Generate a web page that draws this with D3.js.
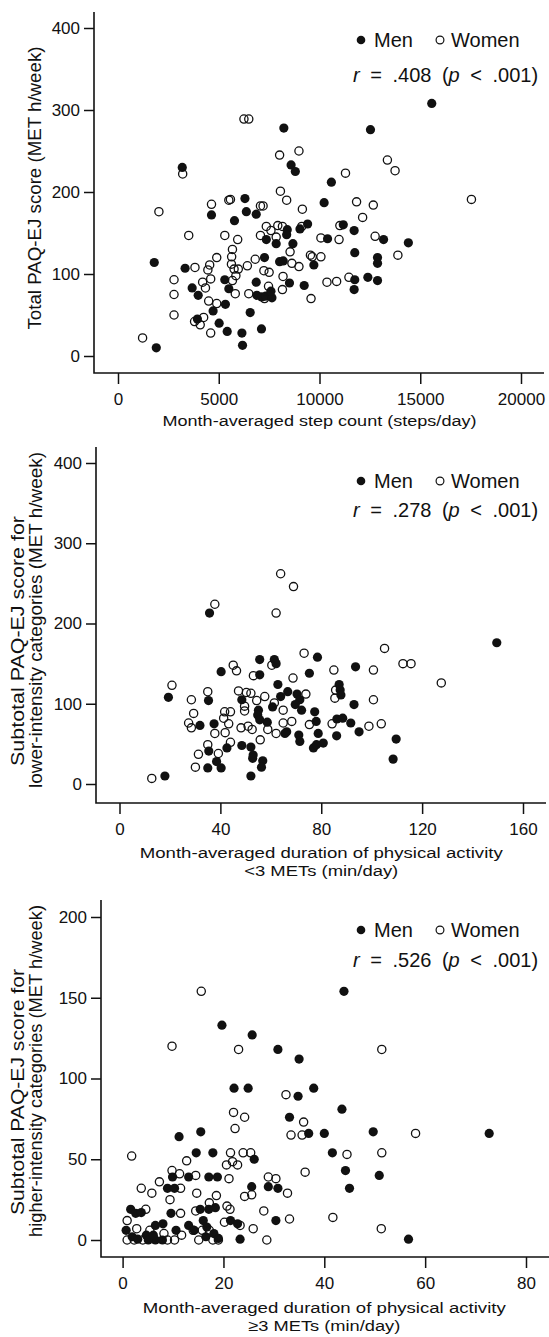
<!DOCTYPE html>
<html>
<head>
<meta charset="utf-8">
<script src="https://cdn.jsdelivr.net/npm/d3@7"></script>
<style>
  body { margin: 0; background: #fff; }
  svg { display: block; }
</style>
</head>
<body>
<svg id="chart" width="549" height="1337"></svg>
<script>
// ---- data ----
const stepsMen = [[15570,308],[8230,278],[12530,276],[3190,230],[8590,233],[8800,225],[10590,212],[10230,187],[6300,192],[4640,172],[6370,176],[6860,173],[5780,165],[8400,154],[8370,148],[9030,155],[9410,161],[11180,160],[11720,153],[13180,142],[10400,143],[14410,138],[7360,142],[7850,137],[8680,137],[11750,126],[12880,120],[12880,113],[7270,120],[8020,115],[8200,116],[9720,111],[1800,114],[3330,107],[12400,96],[12880,92],[11750,93],[11720,81],[8510,89],[9240,86],[6860,90],[5300,93],[5500,82],[3680,83],[3980,74],[6890,74],[7130,72],[7330,73],[7640,71],[7590,79],[5330,63],[4720,55],[6560,53],[5020,40],[5420,30],[7120,33],[6150,28],[6180,13],[1900,10],[3940,45]];
const stepsWomen = [[6250,289],[6490,289],[8020,245],[8980,250],[13370,239],[13750,226],[11290,223],[3210,222],[2030,176],[8060,201],[8370,190],[5500,190],[5580,191],[4640,185],[7070,183],[7200,183],[11840,188],[12670,184],[12140,169],[9150,179],[17540,191],[3510,147],[5300,147],[5940,142],[7360,158],[7590,153],[7930,159],[8160,158],[7070,147],[7850,145],[9120,158],[11010,159],[10970,142],[10070,144],[12760,146],[5680,130],[5640,121],[4900,120],[5630,112],[5760,106],[5970,106],[4550,111],[4460,105],[3820,108],[6420,110],[6810,118],[7240,104],[7500,102],[8540,127],[8630,113],[8980,109],[9550,123],[9640,121],[10070,121],[13890,123],[8190,97],[11460,96],[10370,90],[10850,91],[9580,70],[8160,81],[7470,85],[5850,98],[5680,92],[4600,94],[4200,90],[4340,83],[2780,93],[2780,75],[2780,50],[5820,76],[6490,76],[4500,67],[4900,64],[3800,42],[4080,38],[4250,47],[4600,28],[1220,22],[7270,70]];

const lowMen = [[149.6,176],[35.7,213],[78.5,158],[93.6,146],[55.6,155],[61.4,155],[62.1,150],[40.3,140],[55.6,136],[75.3,138],[62.8,124],[19.4,108],[35.3,104],[48.5,105],[63.9,109],[66.7,115],[70.4,112],[71.5,105],[69.7,99],[72.2,92],[60.7,96],[55.1,92],[54.8,86],[55.6,80],[58.6,77],[77.4,90],[78,78],[78.8,63],[71.1,61],[71.5,53],[66.3,65],[65.6,63],[76.9,45],[80.8,51],[78.1,49],[87.1,124],[87.5,117],[87.8,111],[93,99],[86.2,81],[88.5,82],[91.7,76],[95,65],[86.1,60],[109.7,56],[108.5,31],[37.5,75],[31.9,73],[42.6,45],[48.5,48],[52.1,46],[35.4,41],[35,20],[38.5,28],[40.3,20],[53,36],[52.8,32],[56.8,29],[56.3,21],[52.1,10],[18,10]];
const lowWomen = [[63.9,262],[69,246],[37.8,224],[62.1,213],[105.1,169],[73.2,163],[112.4,150],[115.6,150],[45.1,148],[46.4,141],[60.4,148],[85,142],[100.7,142],[127.6,126],[20.8,123],[53.1,135],[68.8,132],[35,115],[28.5,105],[47.2,116],[50.3,114],[52.1,113],[57.6,109],[73.9,112],[85.4,107],[100.7,105],[29.4,88],[41.7,90],[44,90],[49.6,91],[41.3,82],[27.4,76],[28.5,70],[43.3,75],[37.8,63],[41.9,64],[48.2,70],[51,72],[52.6,68],[58.8,68],[62.1,63],[64.9,76],[68.3,78],[75.3,74],[84.3,75],[98.9,72],[103.8,75],[85.7,117],[55.8,55],[44,52],[35,49],[31.3,37],[39.2,38],[30.1,21],[12.8,7],[61.4,101],[54.4,104],[49.6,97],[64.9,92]];

const highMen = [[43.9,154],[19.7,133],[25.7,127],[30.8,118],[35,112],[22.1,94],[24.9,94],[34.8,89],[37.9,94],[43.5,81],[33.1,76],[36.9,66],[40,66],[49.7,67],[72.7,66],[41.6,54],[44.2,43],[45,32],[50.9,40],[56.7,0.5],[11.2,64],[15.5,67],[14.6,54],[17.9,54],[13.1,39],[17.1,39],[18.8,39],[9.9,39],[8.9,32],[10.3,32],[26.1,50],[25.6,33],[28.9,33],[30.8,32],[30.4,12],[23.3,0.5],[1.6,19],[2.6,16.5],[3.7,17],[0.7,6],[1.9,2],[3,0.5],[9.6,16.5],[8,10],[6.5,9],[4.7,3],[6.5,0],[7.9,0],[5.1,0],[13.1,9],[14.2,6],[15.4,19],[16,12],[16.7,8],[17.1,19],[18.4,20],[18.1,4],[19,1],[21.4,12],[22.8,10],[16.5,2],[10.6,6],[6.1,3]];
const highWomen = [[15.6,154],[9.8,120],[23,118],[51.4,118],[32.4,90],[22,79],[24.2,76],[22.3,69],[35.9,73],[33.4,65],[35.6,65],[58.1,66],[51.4,54],[44.5,53],[36.2,42],[1.8,52],[12.7,49],[21.4,54],[23.9,54],[25.4,54],[20.6,46.5],[21.8,48.5],[22.8,46.5],[21.1,38],[9.8,43],[11.3,41],[14.5,40],[7.3,36],[3.7,32],[5.8,29],[9.4,25],[11.5,32],[14.7,29],[18.6,27.5],[24.2,27],[25.6,28],[28.9,39],[30.4,38],[32.7,29],[28,18],[33.1,13],[41.7,14],[51.3,7],[28.6,0],[25.9,7],[20.7,21],[21.3,19],[20.2,11],[23.3,9],[17.2,6],[17.9,0],[15.1,0],[14,6],[14.5,18],[11.5,16.5],[4.6,19],[0.9,12],[0.9,0],[2.8,7],[2.3,0],[8.2,4],[10.3,0],[11.7,3],[17.2,23],[19,0],[15.8,6],[5.4,6],[4,0],[8.9,0]];

const stepTicks = [0, 5000, 10000, 15000, 20000];
const totalTicks = [0, 100, 200, 300, 400];
const lowTicks = [0, 40, 80, 120, 160];
const highTicks = [0, 20, 40, 60, 80];
const highScoreTicks = [0, 50, 100, 150, 200];
const rValues = ['.408', '.278', '.526'];
const groupLabels = ['Men', 'Women'];

// ---- panel layout ----
const panels = [
  {
    men: stepsMen, women: stepsWomen, xTicks: stepTicks, yTicks: totalTicks, r: rValues[0],
    axisX: 94, axisY: 373, top: 12, right: 544,
    xRange: [118, 521], yRange: [356, 28],
    yTitle: [{ text: 'Total PAQ-EJ score (MET h/week)', x: 41, y: 188, len: 283 }],
    xTitle: [{ text: 'Month-averaged step count (steps/day)', y: 426, len: 314 }],
    legendY: 47, rY: 82
  },
  {
    men: lowMen, women: lowWomen, xTicks: lowTicks, yTicks: totalTicks, r: rValues[1],
    axisX: 96, axisY: 803, top: 447, right: 546,
    xRange: [119.5, 523], yRange: [784, 463],
    yTitle: [{ text: 'Subtotal PAQ-EJ score for', x: 24, y: 641, len: 250 },
             { text: 'lower-intensity categories  (MET h/week)', x: 42, y: 620, len: 336 }],
    xTitle: [{ text: 'Month-averaged duration of physical activity', y: 858, len: 363 },
             { text: '<3 METs (min/day)', y: 876, len: 154 }],
    legendY: 488, rY: 517
  },
  {
    men: highMen, women: highWomen, xTicks: highTicks, yTicks: highScoreTicks, r: rValues[2],
    axisX: 101, axisY: 1257, top: 900, right: 549,
    xRange: [122.6, 526], yRange: [1240, 917],
    yTitle: [{ text: 'Subtotal PAQ-EJ score for', x: 24, y: 1092, len: 246 },
             { text: 'higher-intensity categories (MET h/week)', x: 42, y: 1071, len: 332 }],
    xTitle: [{ text: 'Month-averaged duration of physical activity', y: 1313, len: 363 },
             { text: '\u22653 METs (min/day)', y: 1331, len: 152 }],
    legendY: 937, rY: 967
  }
];

const svg = d3.select('#chart');
const ink = '#111';
const sans = 'Arial, "Liberation Sans", sans-serif';

function drawPanel(p) {
  const g = svg.append('g');

  const x = d3.scaleLinear()
    .domain([p.xTicks[0], p.xTicks[p.xTicks.length - 1]])
    .range(p.xRange);
  const y = d3.scaleLinear()
    .domain([p.yTicks[0], p.yTicks[p.yTicks.length - 1]])
    .range(p.yRange);

  // Y axis (ticks only, own spine)
  const yAxis = g.append('g')
    .attr('transform', `translate(${p.axisX},0)`)
    .call(d3.axisLeft(y).tickValues(p.yTicks).tickSize(10).tickPadding(4));
  yAxis.select('.domain').remove();

  // X axis
  const xAxis = g.append('g')
    .attr('transform', `translate(0,${p.axisY})`)
    .call(d3.axisBottom(x).tickValues(p.xTicks).tickSize(11).tickFormat(d3.format('d')));
  xAxis.select('.domain').remove();
  xAxis.selectAll('text').attr('y', 32).attr('dy', null);

  [yAxis, xAxis].forEach(a => {
    a.selectAll('.tick line').attr('stroke', ink).attr('stroke-width', 1.5);
    a.selectAll('.tick text')
      .attr('fill', ink)
      .style('font-family', sans)
      .style('font-size', '17px');
  });

  // L-shaped spine
  g.append('path')
    .attr('d', `M${p.axisX},${p.top}V${p.axisY}H${p.right}`)
    .attr('fill', 'none')
    .attr('stroke', ink)
    .attr('stroke-width', 1.6);

  // Points
  g.selectAll('.men')
    .data(p.men)
    .enter()
    .append('circle')
    .attr('class', 'men')
    .attr('cx', d => x(d[0]))
    .attr('cy', d => y(d[1]))
    .attr('r', 4.6)
    .attr('fill', ink);

  g.selectAll('.women')
    .data(p.women)
    .enter()
    .append('circle')
    .attr('class', 'women')
    .attr('cx', d => x(d[0]))
    .attr('cy', d => y(d[1]))
    .attr('r', 4.1)
    .attr('fill', 'none')
    .attr('stroke', ink)
    .attr('stroke-width', 1.3);

  // Legend
  const lg = g.append('g').style('font-family', sans).style('font-size', '20px').attr('fill', ink);
  lg.append('circle').attr('cx', 361).attr('cy', p.legendY - 7).attr('r', 4.3).attr('fill', ink);
  lg.append('text').attr('x', 374).attr('y', p.legendY).text(groupLabels[0]);
  lg.append('circle').attr('cx', 440).attr('cy', p.legendY - 7).attr('r', 3.9)
    .attr('fill', 'none').attr('stroke', ink).attr('stroke-width', 1.2);
  lg.append('text').attr('x', 451).attr('y', p.legendY).text(groupLabels[1]);

  const rt = lg.append('text')
    .attr('x', 353)
    .attr('y', p.rY)
    .style('word-spacing', '5px');
  rt.append('tspan').style('font-style', 'italic').text('r');
  rt.append('tspan').text(` = ${p.r} (`);
  rt.append('tspan').style('font-style', 'italic').text('p');
  rt.append('tspan').text(' < .001)');

  // Y title (rotated)
  p.yTitle.forEach(t => {
    g.append('text')
      .attr('transform', `translate(${t.x},${t.y}) rotate(-90)`)
      .attr('text-anchor', 'middle')
      .attr('textLength', t.len)
      .attr('lengthAdjust', 'spacingAndGlyphs')
      .attr('fill', ink)
      .style('font-family', sans)
      .style('font-size', '18px')
      .text(t.text);
  });

  // X title
  const xMid = (p.xRange[0] + p.xRange[1]) / 2;
  p.xTitle.forEach(t => {
    g.append('text')
      .attr('x', xMid)
      .attr('y', t.y)
      .attr('text-anchor', 'middle')
      .attr('textLength', t.len)
      .attr('lengthAdjust', 'spacingAndGlyphs')
      .attr('fill', ink)
      .style('font-family', sans)
      .style('font-size', '15.5px')
      .text(t.text);
  });
}

panels.forEach(drawPanel);
</script>
</body>
</html>
